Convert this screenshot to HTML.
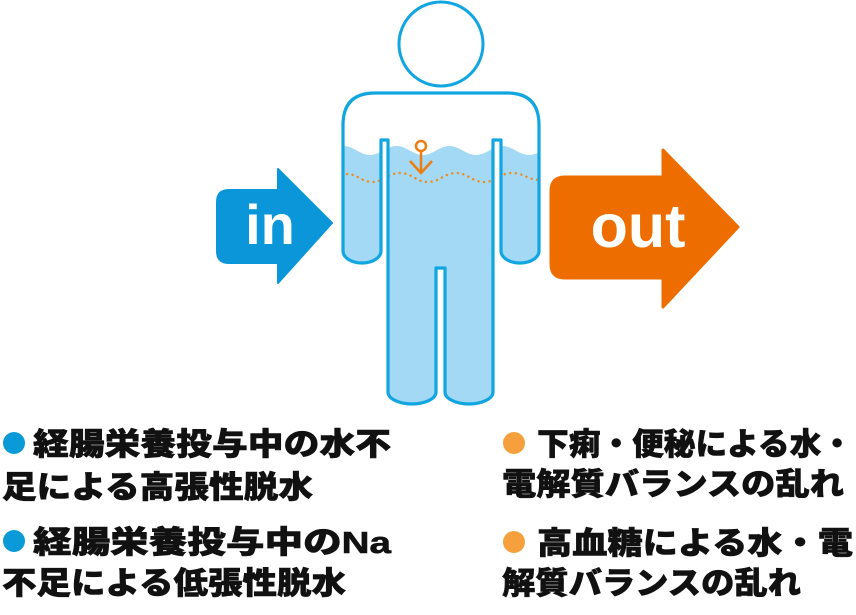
<!DOCTYPE html>
<html><head><meta charset="utf-8"><style>
html,body{margin:0;padding:0;background:#fff;}
svg{display:block;}
.t{font-family:"Liberation Sans","Noto Sans CJK JP",sans-serif;font-weight:900;font-size:31px;fill:#111;stroke:#111;stroke-width:0.6;}
</style></head><body>
<svg width="856" height="615" viewBox="0 0 856 615" xmlns="http://www.w3.org/2000/svg">
<defs>
<clipPath id="body">
<path d="M381,140 L381,251 A19,12 0 0 1 343,251 L343,125 Q343,93 375,93 L507,93 Q539,93 539,125 L539,251 A19,12 0 0 1 501,251 L501,140 L493,140 L493,392 A24,12 0 0 1 445,392 L445,268 L436,268 L436,392 A24,12 0 0 1 388,392 L388,140 Z"/>
</clipPath>
</defs>
<path d="M229,190 L278,190 L278,169 L332,223 L278,283 L278,263 L229,263 Q217,263 217,251 L217,202 Q217,190 229,190 Z" fill="#0a96d8" stroke="#0a96d8" stroke-width="2" stroke-linejoin="round"/>
<text x="270" y="244" text-anchor="middle" font-family="Liberation Sans, sans-serif" font-weight="bold" font-size="56" fill="#fff">in</text>
<path d="M565,177 L663,177 L663,150 L738,227 L663,307 L663,278 L565,278 Q551,278 551,264 L551,191 Q551,177 565,177 Z" fill="#ee6d00" stroke="#ee6d00" stroke-width="3" stroke-linejoin="round"/>
<text x="638" y="247" text-anchor="middle" font-family="Liberation Sans, sans-serif" font-weight="bold" font-size="61" fill="#fff">out</text>
<circle cx="441" cy="44" r="42" fill="#fff" stroke="#12a6e0" stroke-width="3"/>
<path d="M381,140 L381,251 A19,12 0 0 1 343,251 L343,125 Q343,93 375,93 L507,93 Q539,93 539,125 L539,251 A19,12 0 0 1 501,251 L501,140 L493,140 L493,392 A24,12 0 0 1 445,392 L445,268 L436,268 L436,392 A24,12 0 0 1 388,392 L388,140 Z" fill="#fff"/>
<g clip-path="url(#body)">
<path d="M330,146 L343.5,146 C353.5,146 360,155 370,155 C380,155 386.5,146 396.5,146 C406.5,146 413,155 423,155 C433,155 439.5,146 449.5,146 C459.5,146 466,155 476,155 C486,155 492.5,146 502.5,146 C512.5,146 519,155 529,155 C539,155 545.5,146 555.5,146 L560,146 L560,420 L330,420 Z" fill="#a3d9f5"/>
<path d="M347,174 C357,174 362,182 372,182 C384,182 388,173 400,173 C412,173 416,182 428,182 C440,182 444,173 456,173 C468,173 472,182 484,182 C496,182 500,173 512,173 C524,173 528,180 540,180" fill="none" stroke="#f08a1e" stroke-width="2.4" stroke-linecap="round" stroke-dasharray="0.1 5.5"/>
</g>
<path d="M381,140 L381,251 A19,12 0 0 1 343,251 L343,125 Q343,93 375,93 L507,93 Q539,93 539,125 L539,251 A19,12 0 0 1 501,251 L501,140 L493,140 L493,392 A24,12 0 0 1 445,392 L445,268 L436,268 L436,392 A24,12 0 0 1 388,392 L388,140 Z" fill="none" stroke="#12a6e0" stroke-width="3.2" stroke-linejoin="round"/>
<circle cx="421" cy="146" r="5" fill="none" stroke="#ee7d10" stroke-width="2.5"/>
<line x1="421" y1="151" x2="421" y2="173" stroke="#ee7d10" stroke-width="2.5"/>
<polyline points="410,161 421,173 432,161" fill="none" stroke="#ee7d10" stroke-width="2.5"/>
<circle cx="14" cy="443" r="11" fill="#0a9ad8"/>
<circle cx="14" cy="541" r="11" fill="#0a9ad8"/>
<circle cx="514" cy="443" r="11" fill="#f5a03c"/>
<circle cx="514" cy="542" r="11" fill="#f5a03c"/>
<text class="t" x="33" y="455" textLength="358" lengthAdjust="spacingAndGlyphs">経腸栄養投与中の水不</text>
<text class="t" x="2" y="498" textLength="311" lengthAdjust="spacingAndGlyphs">足による高張性脱水</text>
<text class="t" x="33" y="553" textLength="358" lengthAdjust="spacingAndGlyphs">経腸栄養投与中のNa</text>
<text class="t" x="2" y="594" textLength="344" lengthAdjust="spacingAndGlyphs">不足による低張性脱水</text>
<text class="t" x="537" y="455" textLength="316" lengthAdjust="spacingAndGlyphs">下痢・便秘による水・</text>
<text class="t" x="502" y="495" textLength="342" lengthAdjust="spacingAndGlyphs">電解質バランスの乱れ</text>
<text class="t" x="537" y="554" textLength="316" lengthAdjust="spacingAndGlyphs">高血糖による水・電</text>
<text class="t" x="502" y="594" textLength="299" lengthAdjust="spacingAndGlyphs">解質バランスの乱れ</text>
</svg>
</body></html>
